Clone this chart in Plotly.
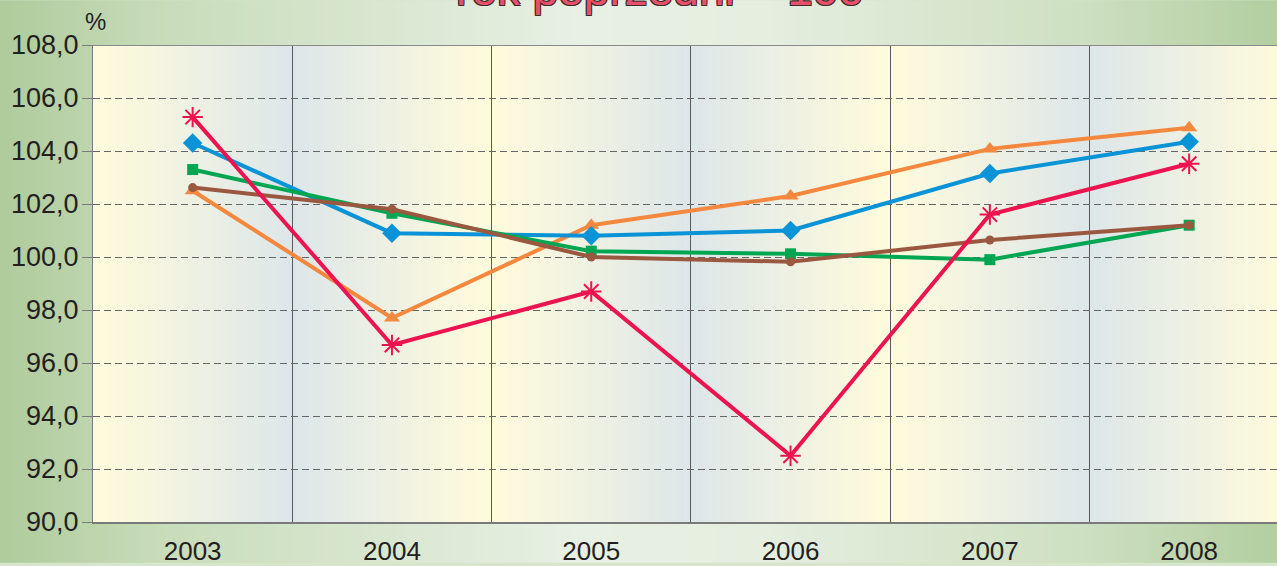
import base64
import struct
import zlib

import plotly.graph_objects as go

# ---------------- data ----------------
years = ["2003", "2004", "2005", "2006", "2007", "2008"]
blue_vals = [104.3, 100.9, 100.8, 101.0, 103.15, 104.35]
orange_vals = [102.5, 97.7, 101.2, 102.3, 104.08, 104.88]
green_vals = [103.3, 101.65, 100.22, 100.12, 99.9, 101.2]
brown_vals = [102.62, 101.8, 100.0, 99.82, 100.64, 101.2]
red_vals = [105.28, 96.68, 98.7, 92.5, 101.6, 103.52]
y_ticks = [90, 92, 94, 96, 98, 100, 102, 104, 106, 108]

FONT = "Liberation Sans Narrow, Arial Narrow, Liberation Sans, Arial, sans-serif"

W, H = 1277, 566
ML, MR, MT, MB = 93, 0, 45, 41
PW, PH = W - ML - MR, H - MT - MB
BAND_PX = 199.3


def png_uri(colors):
    """Build a tiny horizontal-gradient PNG (width=len(colors), height=1)."""
    raw = b"\x00" + b"".join(bytes(c) for c in colors)

    def chunk(t, d):
        c = struct.pack(">I", len(d)) + t + d
        return c + struct.pack(">I", zlib.crc32(t + d) & 0xFFFFFFFF)

    png = b"\x89PNG\r\n\x1a\n"
    png += chunk(b"IHDR", struct.pack(">IIBBBBB", len(colors), 1, 8, 2, 0, 0, 0))
    png += chunk(b"IDAT", zlib.compress(raw))
    png += chunk(b"IEND", b"")
    return "data:image/png;base64," + base64.b64encode(png).decode()


def lerp(a, b, t):
    return tuple(int(round(a[i] + (b[i] - a[i]) * t)) for i in range(3))


def grad(stops, n=128):
    out = []
    for k in range(n):
        t = k / (n - 1)
        for j in range(len(stops) - 1):
            t0, c0 = stops[j]
            t1, c1 = stops[j + 1]
            if t0 <= t <= t1:
                out.append(lerp(c0, c1, (t - t0) / (t1 - t0) if t1 > t0 else 0))
                break
    return out


paper_img = png_uri(grad([(0, (176, 204, 157)), (0.12, (200, 220, 186)),
                          (0.45, (232, 240, 228)), (0.6, (230, 238, 224)),
                          (0.85, (206, 224, 194)), (1, (180, 207, 162))]))
yel = (255, 251, 220)
blu = (221, 230, 233)
band_a = png_uri(grad([(0, yel), (0.15, (250, 248, 222)), (1, blu)]))
band_b = png_uri(grad([(0, blu), (0.85, (250, 248, 222)), (1, yel)]))

x_right = -0.5 + PW / BAND_PX

images = [dict(source=paper_img, xref="paper", yref="paper",
               x=-ML / PW, y=1 + MT / PH, sizex=W / PW, sizey=H / PH,
               sizing="stretch", layer="below", xanchor="left", yanchor="top")]
for i, _ in enumerate(years):
    images.append(dict(source=band_a if i % 2 == 0 else band_b,
                       xref="x", yref="y", x=i - 0.5, y=y_ticks[-1],
                       sizex=1, sizey=y_ticks[-1] - y_ticks[0],
                       sizing="stretch", layer="below",
                       xanchor="left", yanchor="top"))

fig = go.Figure()

series = [
    ("orange", orange_vals, "#f4883f", dict(symbol="triangle-up", size=14)),
    ("blue", blue_vals, "#0a93d6", dict(symbol="diamond", size=15)),
    ("green", green_vals, "#00a651", dict(symbol="square", size=11)),
    ("brown", brown_vals, "#9b5840", dict(symbol="circle", size=9)),
    ("red", red_vals, "#ec1450", dict(symbol="asterisk-open", size=17,
                                       line=dict(width=2, color="#ec1450"))),
]
for name, vals, col, mk in series:
    mk = dict(mk)
    mk.setdefault("color", col)
    fig.add_trace(go.Scatter(x=years, y=vals, name=name, mode="lines+markers",
                             line=dict(color=col, width=4), marker=mk,
                             showlegend=False, cliponaxis=False))

fig.update_layout(
    width=W, height=H,
    margin=dict(l=ML, r=MR, t=MT, b=MB, pad=0),
    paper_bgcolor="#d6e5cc",
    plot_bgcolor="rgba(0,0,0,0)",
    separators=", ",
    images=images,
    font=dict(family=FONT, color="#231f20"),
    xaxis=dict(type="category", range=[-0.5, x_right], tickson="boundaries",
               showgrid=True, gridcolor="#5a5a5a", gridwidth=1,
               showline=True, linecolor="#7a7a7a", linewidth=1.5,
               ticks="", tickfont=dict(size=26, family=FONT, color="#231f20"),
               ticklabelstandoff=5, zeroline=False),
    yaxis=dict(range=[y_ticks[0], y_ticks[-1]], tickvals=y_ticks,
               tickformat=".1f", showgrid=True, gridcolor="#666666",
               gridwidth=1, griddash="7px,4px",
               showline=True, linecolor="#7a7a7a", linewidth=1,
               ticks="outside", ticklen=10, tickcolor="#7a7a7a",
               tickfont=dict(size=27, family=FONT, color="#231f20"),
               ticklabelstandoff=-2, zeroline=False),
    shapes=[dict(type="line", xref="paper", yref="y", x0=0, x1=1,
                 y0=y_ticks[-1], y1=y_ticks[-1],
                 line=dict(color="#8a8a8a", width=2), layer="above")],
    annotations=[
        dict(text="%", xref="paper", yref="paper", x=2 / PW, y=1,
             yshift=24, showarrow=False, xanchor="center", yanchor="middle",
             font=dict(size=24, family=FONT, color="#231f20")),
        dict(text="rok poprzedni = 100", xref="paper", yref="paper",
             x=(660 - ML) / PW, y=1, yshift=28, showarrow=False,
             xanchor="center", yanchor="bottom",
             font=dict(size=46, family="Liberation Sans, Arial, sans-serif",
                       color="#e8506a",
                       shadow="1px 1px 0 #3b2b2b, -1px -1px 0 #3b2b2b, "
                              "1px -1px 0 #3b2b2b, -1px 1px 0 #3b2b2b")),
    ],
)

fig.write_html(
    "out.html",
    config={"displayModeBar": False},
    post_script="document.body.style.margin='0';"
                "document.body.style.overflow='hidden';",
)
